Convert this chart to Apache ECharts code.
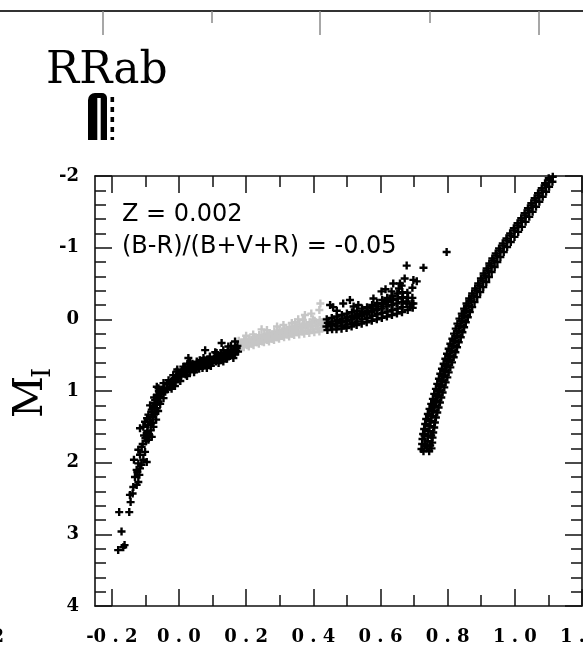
<!DOCTYPE html>
<html><head><meta charset="utf-8">
<script src="https://cdn.jsdelivr.net/npm/echarts@6/dist/echarts.min.js"></script>
<style>html,body{margin:0;padding:0;background:#fff}#c{width:583px;height:653px}</style>
</head><body><div id="c"></div><script>
// ---- data: [colour index, M_I] ----
const blueHB = [
[-0.181,3.22],[-0.166,3.18],[-0.162,3.15],[-0.171,2.96],[-0.178,2.69],[-0.148,2.69],[-0.144,2.55],[-0.146,2.45],[-0.138,2.43],
[-0.136,2.34],[-0.126,2.31],[-0.121,2.27],[-0.131,2.20],[-0.118,2.17],[-0.124,2.13],[-0.126,2.10],[-0.116,2.08],[-0.112,2.03],[-0.121,2.01],[-0.134,1.96],[-0.106,1.96],[-0.096,1.99],[-0.116,1.89],[-0.101,1.85],[-0.121,1.82],[-0.111,1.78],
[-0.108,1.74],[-0.098,1.70],[-0.091,1.68],[-0.081,1.64],[-0.104,1.62],[-0.096,1.59],[-0.094,1.56],[-0.116,1.52],[-0.106,1.50],[-0.076,1.50],[-0.092,1.47],[-0.083,1.45],[-0.101,1.43],[-0.086,1.40],[-0.095,1.38],[-0.079,1.36],[-0.091,1.33],[-0.071,1.31],[-0.081,1.29],[-0.081,1.26],[-0.066,1.24],[-0.076,1.22],[-0.086,1.20],[-0.069,1.19],[-0.061,1.15],[-0.071,1.13],[-0.046,1.10],[-0.074,1.09],[-0.056,1.08],[-0.066,1.06],[-0.058,1.02],[-0.041,1.01],[-0.051,0.98],[-0.022,0.97],[-0.061,0.96],[-0.066,0.94],[-0.026,0.94],[-0.012,0.93],[-0.036,0.91],[-0.046,0.89],[-0.010,0.88],[-0.017,0.87],[0.004,0.86],[-0.031,0.85],
[-0.002,0.82],[-0.017,0.78],[0.003,0.78],[0.024,0.79],[0.008,0.75],[0.018,0.74],[0.045,0.74],[-0.007,0.73],[0.033,0.73],[0.023,0.71],[0.015,0.70],[-0.005,0.70],[0.048,0.70],[0.070,0.68],[0.083,0.68],[0.013,0.66],[0.043,0.66],[0.058,0.66],[0.095,0.65],[0.038,0.64],[0.063,0.64],[0.025,0.62],[0.068,0.62],[0.088,0.62],[0.033,0.61],[0.118,0.61],[0.097,0.60],[0.053,0.59],[0.083,0.59],[0.132,0.59],[0.062,0.57],[0.076,0.57],[0.102,0.57],[0.117,0.56],[0.143,0.55],[0.028,0.54],[0.073,0.54],[0.162,0.54],[0.092,0.52],[0.107,0.53],[0.122,0.52],[0.137,0.51],[0.152,0.49],[0.112,0.47],[0.142,0.47],[0.167,0.46],[0.108,0.46],[0.176,0.45],[0.078,0.43],[0.132,0.43],[0.157,0.43],[0.172,0.40],[0.147,0.38],[0.155,0.37],[0.127,0.33],[0.167,0.31],
[-0.045,0.95],[-0.035,0.98],[-0.028,0.90],[-0.020,0.86],[-0.015,0.83],[-0.008,0.80],[0.000,0.76],[0.006,0.80],[0.010,0.72],[0.018,0.68],[0.020,0.77],[0.028,0.66],[0.030,0.70],[0.036,0.68],[0.040,0.62],[0.050,0.64],[0.052,0.68],[0.056,0.61],[0.060,0.69],[0.066,0.59],[0.072,0.65],[0.078,0.60],[0.080,0.64],[0.086,0.56],[0.090,0.63],[0.095,0.58],[0.100,0.61],[0.104,0.55],[0.110,0.59],[0.114,0.51],[0.120,0.57],[0.125,0.49],[0.128,0.55],[0.134,0.47],[0.138,0.53],[0.145,0.45],[0.148,0.52],[0.154,0.45],[0.158,0.50],[0.163,0.42],[0.166,0.49],[0.170,0.44],[0.174,0.37],
[-0.060,1.00],[-0.052,1.04],[-0.064,1.10],[-0.056,1.18],[-0.072,1.17],[-0.062,1.28],[-0.074,1.33],[-0.068,1.40],[-0.084,1.55],[-0.088,1.62],[-0.078,1.44],[-0.100,1.66]
];
const rrLyrae = [
[0.178,0.30],[0.182,0.36],[0.180,0.41],[0.194,0.28],[0.197,0.34],[0.193,0.39],[0.209,0.27],[0.212,0.32],[0.208,0.38],
[0.224,0.25],[0.227,0.30],[0.222,0.36],[0.239,0.22],[0.242,0.29],[0.238,0.34],[0.254,0.21],[0.257,0.27],[0.253,0.32],
[0.269,0.19],[0.272,0.25],[0.268,0.31],[0.284,0.17],[0.287,0.23],[0.283,0.29],[0.299,0.15],[0.302,0.21],[0.298,0.27],
[0.314,0.13],[0.317,0.19],[0.313,0.25],[0.329,0.11],[0.332,0.17],[0.328,0.24],[0.344,0.09],[0.347,0.15],[0.343,0.22],
[0.359,0.07],[0.362,0.13],[0.358,0.21],[0.374,0.06],[0.377,0.12],[0.373,0.20],[0.389,0.04],[0.392,0.10],[0.388,0.19],
[0.404,0.02],[0.407,0.09],[0.403,0.18],[0.419,0.01],[0.422,0.08],[0.418,0.17],[0.432,0.03],[0.434,0.11],
[0.187,0.33],[0.188,0.38],[0.202,0.31],[0.203,0.36],[0.217,0.29],[0.218,0.34],[0.232,0.27],[0.233,0.32],[0.247,0.25],[0.248,0.31],
[0.262,0.23],[0.263,0.29],[0.277,0.21],[0.278,0.27],[0.292,0.19],[0.293,0.25],[0.307,0.17],[0.308,0.23],[0.322,0.15],[0.323,0.21],
[0.337,0.13],[0.338,0.20],[0.352,0.11],[0.353,0.18],[0.367,0.10],[0.368,0.17],[0.382,0.08],[0.383,0.16],[0.397,0.06],[0.398,0.14],
[0.412,0.05],[0.413,0.13],[0.426,0.04],[0.427,0.12],
[0.421,-0.22],[0.418,-0.13],[0.375,-0.06],[0.369,0.01],[0.336,0.05],[0.311,0.08],[0.246,0.14],[0.221,0.21],[0.355,0.00],
[0.399,0.00],[0.262,0.15],[0.200,0.23],[0.292,0.10],[0.394,-0.08],[0.346,0.04]
];
const redHB = [
[0.440,0.00],[0.443,0.05],[0.439,0.10],[0.442,0.15],[0.455,-0.02],[0.457,0.03],[0.453,0.08],[0.456,0.14],
[0.470,-0.04],[0.472,0.01],[0.468,0.06],[0.471,0.10],[0.469,0.14],[0.485,-0.06],[0.487,-0.01],[0.483,0.04],[0.486,0.09],[0.484,0.13],
[0.500,-0.08],[0.502,-0.03],[0.498,0.02],[0.501,0.07],[0.499,0.12],[0.515,-0.10],[0.517,-0.05],[0.513,0.00],[0.516,0.05],[0.514,0.10],
[0.530,-0.12],[0.532,-0.07],[0.528,-0.02],[0.531,0.03],[0.529,0.08],[0.545,-0.15],[0.547,-0.10],[0.543,-0.05],[0.546,0.00],[0.544,0.06],
[0.560,-0.17],[0.562,-0.12],[0.558,-0.07],[0.561,-0.02],[0.559,0.04],[0.575,-0.20],[0.577,-0.15],[0.573,-0.10],[0.576,-0.05],[0.574,0.02],
[0.590,-0.23],[0.592,-0.18],[0.588,-0.13],[0.591,-0.07],[0.589,0.00],[0.605,-0.27],[0.607,-0.21],[0.603,-0.15],[0.606,-0.09],[0.604,-0.02],
[0.620,-0.30],[0.622,-0.24],[0.618,-0.18],[0.621,-0.11],[0.619,-0.04],[0.635,-0.33],[0.637,-0.27],[0.633,-0.20],[0.636,-0.13],[0.634,-0.06],
[0.650,-0.36],[0.652,-0.29],[0.648,-0.22],[0.651,-0.15],[0.649,-0.08],[0.665,-0.38],[0.667,-0.31],[0.663,-0.24],[0.666,-0.17],[0.664,-0.10],
[0.680,-0.37],[0.682,-0.30],[0.678,-0.22],[0.681,-0.13],[0.695,-0.30],[0.693,-0.22],[0.696,-0.16],
[0.450,-0.20],[0.489,-0.22],[0.509,-0.27],[0.459,-0.17],[0.534,-0.20],[0.579,-0.29],[0.603,-0.39],[0.633,-0.39],[0.638,-0.50],
[0.658,-0.50],[0.663,-0.47],[0.655,-0.43],[0.672,-0.57],[0.698,-0.55],[0.708,-0.53],[0.695,-0.44],[0.615,-0.42],[0.678,-0.25],
[0.698,-0.22],[0.688,-0.18],[0.678,-0.75],[0.728,-0.72],[0.797,-0.94],[0.520,-0.18],[0.470,-0.12]
];
const rgb = [
[0.728,1.84],[0.745,1.84],[0.733,1.76],[0.748,1.76],[0.731,1.62],[0.751,1.62],
[0.722,1.81],[0.738,1.77],[0.752,1.80],[0.724,1.74],[0.740,1.70],[0.754,1.72],[0.725,1.67],[0.741,1.63],[0.755,1.65],
[0.727,1.60],[0.743,1.56],[0.757,1.58],[0.730,1.53],[0.746,1.49],[0.760,1.51],[0.733,1.46],[0.749,1.42],[0.762,1.44],
[0.736,1.39],[0.752,1.35],[0.765,1.37],[0.741,1.32],[0.756,1.28],[0.769,1.30],[0.746,1.25],[0.761,1.21],[0.773,1.23],
[0.751,1.18],[0.765,1.14],[0.777,1.16],[0.756,1.11],[0.770,1.07],[0.781,1.09],[0.760,1.04],[0.774,1.00],[0.785,1.02],
[0.765,0.97],[0.779,0.93],[0.790,0.95],[0.769,0.90],[0.783,0.86],[0.794,0.88],[0.774,0.83],[0.788,0.79],[0.799,0.81],
[0.778,0.76],[0.792,0.72],[0.803,0.74],[0.783,0.69],[0.797,0.65],[0.808,0.67],[0.788,0.62],[0.802,0.58],[0.813,0.60],
[0.793,0.55],[0.807,0.51],[0.818,0.53],[0.798,0.48],[0.812,0.44],[0.823,0.46],[0.803,0.41],[0.817,0.37],[0.828,0.39],
[0.808,0.34],[0.822,0.30],[0.833,0.32],[0.814,0.27],[0.828,0.23],[0.839,0.25],[0.819,0.20],[0.833,0.16],[0.844,0.18],
[0.824,0.13],[0.838,0.09],[0.849,0.11],[0.829,0.06],[0.843,0.02],[0.854,0.04],[0.835,-0.01],[0.849,-0.05],[0.860,-0.03],
[0.842,-0.08],[0.855,-0.12],[0.866,-0.10],[0.849,-0.15],[0.862,-0.19],[0.873,-0.17],[0.856,-0.22],[0.869,-0.26],[0.880,-0.24],
[0.864,-0.29],[0.877,-0.33],[0.888,-0.31],[0.873,-0.36],[0.886,-0.40],[0.897,-0.38],[0.882,-0.43],[0.895,-0.47],[0.906,-0.45],
[0.891,-0.50],[0.904,-0.54],[0.915,-0.52],[0.899,-0.57],[0.912,-0.61],[0.923,-0.59],[0.907,-0.64],[0.920,-0.68],[0.931,-0.66],
[0.916,-0.71],[0.929,-0.75],[0.940,-0.73],[0.924,-0.78],[0.937,-0.82],[0.948,-0.80],[0.933,-0.85],[0.946,-0.89],[0.957,-0.87],
[0.943,-0.92],[0.956,-0.96],[0.967,-0.94],[0.953,-0.99],[0.966,-1.03],[0.977,-1.01],[0.964,-1.06],[0.977,-1.10],[0.988,-1.08],
[0.975,-1.13],[0.988,-1.17],[0.999,-1.15],[0.986,-1.20],[0.999,-1.24],[1.010,-1.22],[0.997,-1.27],[1.010,-1.31],[1.021,-1.29],
[1.008,-1.34],[1.021,-1.38],[1.032,-1.36],[1.019,-1.41],[1.032,-1.45],[1.043,-1.43],[1.029,-1.48],[1.042,-1.52],[1.053,-1.50],
[1.039,-1.55],[1.052,-1.59],[1.063,-1.57],[1.049,-1.62],[1.062,-1.66],[1.073,-1.64],[1.059,-1.69],[1.072,-1.73],[1.083,-1.71],
[1.069,-1.76],[1.082,-1.80],[1.093,-1.78],[1.080,-1.83],[1.092,-1.87],[1.102,-1.85],[1.090,-1.90],[1.102,-1.94],[1.112,-1.92],
[1.101,-1.97],[1.113,-1.99]
];
// ---- axes / ticks ----
const xRange = [-0.25, 1.2];
const xTicks = [-0.2, 0, 0.2, 0.4, 0.6, 0.8, 1.0, 1.2];
const xMinorTicks = [-0.1, 0.1, 0.3, 0.5, 0.7, 0.9, 1.1];
const yRange = [-2, 4];
const topPanelRange = [0, 583];
const topPanelMajor = [103, 320, 539];
const topPanelMinor = [212, 430];
const annotations = ['Z = 0.002', '(B-R)/(B+V+R) = -0.05'];

const SERIF = '"DejaVu Serif", serif';
const SANS = '"DejaVu Sans", sans-serif';
const plus = 'path://M2.8,0h2.4v8h-2.4z M0,2.8h8v2.4h-8z';
function spaced(s) { return s.replace('.', ' . '); }
const LINE = '#111';
const labelFont = {fontFamily: SERIF, fontSize: 18, fontWeight: 'bold', color: '#000'};
function xAx(opts) {
  return Object.assign({
    type: 'value', gridIndex: 0, min: xRange[0], max: xRange[1],
    axisLine: {show: false, onZero: false}, splitLine: {show: false},
    axisLabel: {show: false}
  }, opts);
}
const xAxes = [
  xAx({position: 'bottom', axisLine: {show: true, onZero: false, lineStyle: {color: LINE, width: 1.6}},
    axisTick: {show: true, inside: true, length: 17, customValues: xTicks, lineStyle: {color: LINE, width: 1.5}},
    axisLabel: Object.assign({show: true, customValues: xTicks, margin: 22, formatter: v => spaced(v.toFixed(1))}, labelFont)}),
  xAx({position: 'bottom', axisTick: {show: true, inside: true, length: 11, customValues: xMinorTicks, lineStyle: {color: LINE, width: 1.5}}}),
  xAx({position: 'top', axisLine: {show: true, onZero: false, lineStyle: {color: LINE, width: 1.6}},
    axisTick: {show: true, inside: true, length: 17, customValues: xTicks, lineStyle: {color: LINE, width: 1.5}}}),
  xAx({position: 'top', axisTick: {show: true, inside: true, length: 11, customValues: xMinorTicks, lineStyle: {color: LINE, width: 1.5}}}),
  {type: 'value', gridIndex: 1, position: 'bottom', min: topPanelRange[0], max: topPanelRange[1],
    axisLine: {show: true, onZero: false, lineStyle: {color: '#333', width: 2}},
    axisTick: {show: true, inside: false, length: 24, customValues: topPanelMajor, lineStyle: {color: '#8a8a8a', width: 1.5}},
    axisLabel: {show: false}, splitLine: {show: false}},
  {type: 'value', gridIndex: 1, position: 'bottom', min: topPanelRange[0], max: topPanelRange[1],
    axisLine: {show: false, onZero: false},
    axisTick: {show: true, inside: false, length: 12, customValues: topPanelMinor, lineStyle: {color: '#8a8a8a', width: 1.5}},
    axisLabel: {show: false}, splitLine: {show: false}}
];
function yAx(pos, labels) {
  return {
    type: 'value', gridIndex: 0, position: pos, min: yRange[0], max: yRange[1], interval: 1, inverse: true,
    axisLine: {show: true, onZero: false, lineStyle: {color: LINE, width: 1.6}},
    axisTick: {show: true, inside: true, length: 17, lineStyle: {color: LINE, width: 1.5}},
    minorTick: {show: true, splitNumber: 5, length: 11, lineStyle: {color: LINE, width: 1.5}},
    axisLabel: labels ? Object.assign({show: true, margin: 16, formatter: v => String(v)}, labelFont) : {show: false},
    splitLine: {show: false}, minorSplitLine: {show: false}
  };
}
const yAxes = [yAx('left', true), yAx('right', false),
  {type: 'value', gridIndex: 1, show: false, min: 0, max: 1}];

function sc(data, color, z) {
  return {type: 'scatter', xAxisIndex: 0, yAxisIndex: 0, data: data, symbol: plus, symbolSize: 8,
    itemStyle: {color: color, opacity: 1}, z: z, silent: true, clip: true};
}

const chart = echarts.init(document.getElementById('c'), null, {renderer: 'canvas'});
chart.setOption({
  animation: false,
  backgroundColor: '#fff',
  grid: [
    {left: 95, right: 1, top: 176, bottom: 47, containLabel: false, outerBoundsMode: 'none'},
    {left: 0, right: 0, top: 0, height: 11, containLabel: false, outerBoundsMode: 'none'}
  ],
  xAxis: xAxes,
  yAxis: yAxes,
  series: [
    sc(rrLyrae, '#c6c6c6', 2),
    sc(blueHB, '#000', 3),
    sc(redHB, '#000', 3),
    sc(rgb, '#000', 3)
  ],
  graphic: [
    {type: 'text', x: 46, y: 72, style: {text: 'RRab', font: '44px ' + SERIF, fill: '#000', textAlign: 'left', textVerticalAlign: 'middle', align: 'left', verticalAlign: 'middle'}},
    {type: 'rect', shape: {x: 88, y: 93, width: 19, height: 47, r: [7, 5, 0, 0]}, style: {fill: '#000'}},
    {type: 'rect', shape: {x: 97.3, y: 98, width: 3.4, height: 42}, style: {fill: '#fff'}},
    {type: 'line', shape: {x1: 112.3, y1: 97, x2: 112.3, y2: 140}, style: {stroke: '#000', lineWidth: 3.6, lineDash: [5, 5]}},
    {type: 'text', x: 122, y: 215, style: {text: annotations[0], font: '24px ' + SANS, fill: '#000', textAlign: 'left', textVerticalAlign: 'middle', align: 'left', verticalAlign: 'middle'}},
    {type: 'text', x: 122, y: 247, style: {text: annotations[1], font: '24px ' + SANS, fill: '#000', textAlign: 'left', textVerticalAlign: 'middle', align: 'left', verticalAlign: 'middle'}},
    {type: 'text', x: 31, y: 418, rotation: Math.PI / 2, style: {text: 'M', font: '41px ' + SERIF, fill: '#000', textAlign: 'left', textVerticalAlign: 'middle', align: 'left', verticalAlign: 'middle'}},
    {type: 'text', x: 43, y: 378, rotation: Math.PI / 2, style: {text: 'I', font: '26px ' + SERIF, fill: '#000', textAlign: 'left', textVerticalAlign: 'middle', align: 'left', verticalAlign: 'middle'}},
    {type: 'text', x: 4, y: 637, style: {text: '1 . 2', font: 'bold 18px ' + SERIF, fill: '#000', textAlign: 'right', textVerticalAlign: 'middle', align: 'right', verticalAlign: 'middle'}}
  ]
});
</script></body></html>
